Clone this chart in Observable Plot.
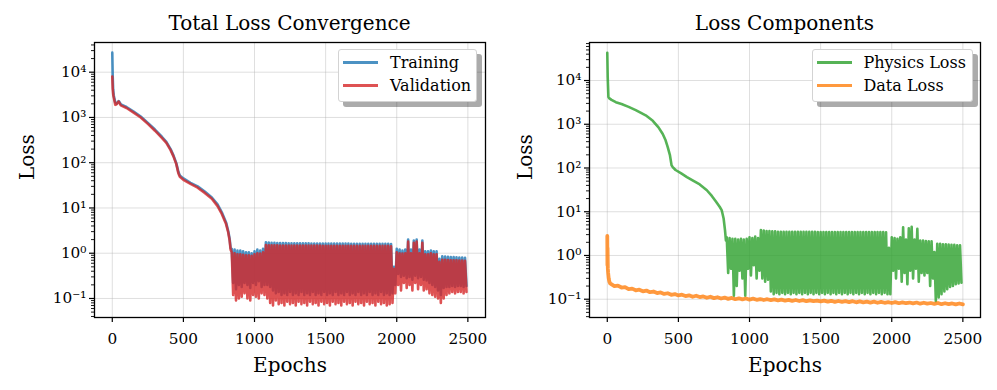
<!DOCTYPE html>
<html><head><meta charset="utf-8">
<script src="https://cdn.jsdelivr.net/npm/d3@7"></script>
<script src="https://cdn.jsdelivr.net/npm/@observablehq/plot@0.6"></script>
<style>
body{margin:0;background:#fff;font-family:"DejaVu Serif",serif;color:#000;}
#wrap{position:relative;width:997px;height:390px;overflow:hidden;background:#fff;}
.panel{position:absolute;top:0;}
.title{position:absolute;top:13px;font-size:20px;line-height:20px;white-space:nowrap;transform:translateX(-50%);}
.legend{position:absolute;background:#fff;border:1px solid #d3d3d3;border-radius:3px;box-shadow:5px 5px 0 rgba(0,0,0,0.33);box-sizing:border-box;}
.handle{position:absolute;height:2.6px;width:35px;}
.ltext{position:absolute;font-size:16px;line-height:16px;white-space:nowrap;}
</style></head>
<body><div id="wrap"></div>
<script>
// ---------------- data ----------------
const xTicks = [0, 500, 1000, 1500, 2000, 2500];
const yTicks = [0.1, 1, 10, 100, 1000, 10000];
const yTickLabels = ["10\u207B\u00B9", "10\u2070", "10\u00B9", "10\u00B2", "10\u00B3", "10\u2074"];
const minorTicks = [0.04,0.05,0.06,0.07,0.08,0.09,0.2,0.3,0.4,0.5,0.6,0.7,0.8,0.9,2,3,4,5,6,7,8,9,20,30,40,50,60,70,80,90,200,300,400,500,600,700,800,900,2000,3000,4000,5000,6000,7000,8000,9000,20000,30000,40000,50000,60000,70000];

// smooth early phase (epoch, loss)
const trainEpochs = [0, 3, 6, 10, 20, 30, 45, 60, 100, 150, 200, 250, 300, 350, 380, 410, 430, 450, 465, 475, 500, 550, 600, 650, 700, 740, 770, 800, 815, 825, 832];
const trainVals   = [27000, 8000, 4200, 3100, 2200, 2000, 2300, 1950, 1700, 1350, 1050, 760, 540, 370, 290, 200, 145, 98, 62, 52, 45, 36, 30, 23, 17, 12, 8, 4.8, 3.1, 2.1, 1.3];
const valEpochs   = [0, 3, 6, 10, 21, 30, 44, 60, 100, 150, 200, 250, 300, 350, 380, 410, 430, 450, 465, 475, 500, 550, 600, 650, 700, 740, 770, 800, 815, 825, 832];
const valVals     = [8000, 4300, 3300, 2800, 1900, 1950, 2250, 1850, 1620, 1280, 1000, 720, 510, 350, 275, 190, 138, 93, 58, 49, 42, 34, 28, 21.5, 16, 11, 7.4, 4.4, 2.9, 1.9, 1.2];
const physEpochs  = [0, 3, 8, 15, 30, 60, 100, 150, 200, 270, 320, 360, 390, 410, 425, 440, 452, 460, 480, 520, 560, 600, 650, 700, 735, 765, 790, 805, 818, 828, 834];
const physVals    = [43000, 12000, 4200, 3900, 3600, 3200, 2900, 2500, 2100, 1600, 1200, 850, 600, 430, 300, 200, 115, 105, 90, 75, 62, 52, 42, 31, 23, 17, 13, 10.7, 7, 3.7, 2.2];

// oscillating phase: one peak/trough pair every 20 epochs from epoch 840
const OSC_START = 840, OSC_STEP = 20;
const trainHi = [1.25,1.2,1.15,1.15,1.1,1.05,1.05,1.0,1.1,1.2,1.15,1.25,
  1.75,1.72,1.7,1.7,1.68,1.68,1.67,1.67,1.66,1.66,1.66,1.65,1.65,1.65,1.65,1.65,1.64,1.64,1.64,1.64,1.64,1.64,1.63,1.63,1.63,1.63,1.63,1.63,1.63,1.63,1.62,1.62,1.62,1.62,1.62,1.62,1.62,1.62,1.62,1.62,1.62,1.62,1.62,1.62,
  1.6,0.5,1.25,1.2,1.15,1.2,2.0,1.2,1.9,2.0,1.2,1.9,1.1,1.1,1.15,1.1,1.1,0.75,
  0.85,0.84,0.83,0.82,0.82,0.81,0.8,0.8,0.79];
const trainLo = [0.22,0.16,0.2,0.18,0.22,0.2,0.17,0.22,0.2,0.24,0.18,0.2,
  0.2,0.18,0.15,0.13,0.14,0.12,0.13,0.12,0.14,0.12,0.13,0.12,0.14,0.12,0.13,0.12,0.14,0.12,0.13,0.12,0.14,0.12,0.13,0.12,0.14,0.12,0.13,0.12,0.14,0.12,0.13,0.12,0.14,0.12,0.13,0.12,0.14,0.12,0.13,0.12,0.14,0.12,0.13,0.12,
  0.13,0.2,0.35,0.3,0.32,0.28,0.3,0.26,0.32,0.28,0.3,0.26,0.25,0.22,0.2,0.18,0.15,0.12,
  0.17,0.18,0.18,0.19,0.18,0.19,0.19,0.18,0.19];
const valHi = [1.05,1.0,0.95,0.95,0.92,0.9,0.9,0.88,0.95,1.0,0.98,1.05,
  1.52,1.5,1.5,1.49,1.49,1.48,1.48,1.48,1.47,1.47,1.47,1.47,1.47,1.47,1.47,1.47,1.47,1.47,1.47,1.47,1.46,1.46,1.46,1.46,1.46,1.46,1.46,1.46,1.46,1.46,1.45,1.45,1.45,1.45,1.45,1.45,1.45,1.45,1.45,1.45,1.45,1.45,1.45,1.45,
  1.42,0.45,1.05,1.0,0.98,1.0,1.8,1.0,1.7,1.8,1.0,1.7,0.95,0.95,1.0,0.95,0.95,0.65,
  0.72,0.72,0.71,0.7,0.7,0.7,0.69,0.69,0.68];
const valLo = [0.12,0.09,0.1,0.11,0.13,0.1,0.09,0.12,0.11,0.1,0.13,0.12,
  0.1,0.08,0.07,0.09,0.075,0.08,0.07,0.085,0.075,0.08,0.07,0.085,0.075,0.08,0.07,0.085,0.075,0.08,0.07,0.085,0.075,0.08,0.07,0.085,0.075,0.08,0.07,0.085,0.075,0.08,0.07,0.085,0.075,0.08,0.07,0.085,0.075,0.08,0.07,0.085,0.075,0.08,0.07,0.075,
  0.08,0.13,0.2,0.15,0.22,0.17,0.2,0.15,0.22,0.16,0.2,0.15,0.16,0.13,0.12,0.11,0.1,0.08,
  0.1,0.12,0.13,0.14,0.13,0.14,0.14,0.13,0.14];
const physHi = [2.6,2.5,2.4,2.4,2.3,2.4,2.3,2.4,2.6,2.5,2.7,2.5,
  3.8,3.7,3.6,3.6,3.55,3.55,3.5,3.5,3.5,3.5,3.5,3.5,3.5,3.5,3.5,3.5,3.5,3.5,3.5,3.5,3.45,3.45,3.45,3.45,3.45,3.45,3.45,3.45,3.45,3.45,3.45,3.45,3.45,3.45,3.45,3.45,3.45,3.45,3.45,3.45,3.45,3.45,3.45,3.45,
  3.4,1.5,2.6,2.5,2.4,2.6,4.4,2.3,4.2,4.5,2.3,4.1,2.2,2.2,2.15,2.1,2.1,1.2,
  1.85,1.85,1.8,1.8,1.78,1.75,1.75,1.72,1.7];
const physLo = [0.4,0.5,0.12,0.2,0.45,0.3,0.12,0.5,0.35,0.6,0.3,0.45,
  0.3,0.25,0.28,0.15,0.13,0.14,0.13,0.14,0.13,0.14,0.13,0.14,0.13,0.14,0.13,0.14,0.13,0.14,0.13,0.14,0.13,0.14,0.13,0.14,0.13,0.14,0.13,0.14,0.13,0.14,0.13,0.14,0.13,0.14,0.13,0.14,0.13,0.14,0.13,0.14,0.13,0.14,0.13,0.14,
  0.13,0.13,0.45,0.3,0.5,0.25,0.4,0.22,0.45,0.3,0.5,0.25,0.4,0.35,0.4,0.2,0.3,0.09,
  0.11,0.13,0.15,0.17,0.19,0.2,0.22,0.23,0.24];

// data loss: initial epochs, then one value every 25 epochs from 25
const dataEarlyEpochs = [0, 1, 2, 4, 6, 10, 15, 20];
const dataEarlyVals   = [2.8, 0.6, 1.5, 0.5, 0.4, 0.3, 0.25, 0.23];
const DATA_START = 25, DATA_STEP = 25;
const dataVals = [0.225,0.2,0.205,0.185,0.19,0.17,0.175,0.16,0.165,0.152,
  0.158,0.145,0.15,0.138,0.143,0.132,0.137,0.126,0.131,0.122,
  0.127,0.118,0.123,0.114,0.12,0.112,0.116,0.108,0.114,0.106,
  0.111,0.104,0.109,0.102,0.107,0.1,0.105,0.099,0.104,0.098,
  0.103,0.097,0.101,0.096,0.1,0.095,0.099,0.094,0.098,0.093,
  0.097,0.092,0.096,0.091,0.095,0.09,0.094,0.09,0.093,0.089,
  0.093,0.088,0.092,0.087,0.091,0.087,0.09,0.086,0.09,0.085,
  0.089,0.085,0.088,0.084,0.088,0.083,0.087,0.083,0.086,0.082,
  0.086,0.081,0.085,0.081,0.084,0.08,0.084,0.079,0.083,0.079,
  0.082,0.078,0.082,0.077,0.081,0.077,0.08,0.076,0.08,0.076];

// ---------------- build series ----------------
function series(epochs, vals, hi, lo) {
  const out = epochs.map((e, i) => ({epoch: e, loss: vals[i]}));
  hi.forEach((h, i) => {
    const e = OSC_START + OSC_STEP * i;
    out.push({epoch: e, loss: h});
    out.push({epoch: e + OSC_STEP / 2, loss: lo[i]});
  });
  return out;
}
const train = series(trainEpochs, trainVals, trainHi, trainLo);
const valid = series(valEpochs, valVals, valHi, valLo);
const phys  = series(physEpochs, physVals, physHi, physLo);
const dataL = dataEarlyEpochs.map((e, i) => ({epoch: e, loss: dataEarlyVals[i]}))
  .concat(dataVals.map((v, i) => ({epoch: DATA_START + DATA_STEP * i, loss: v})));

const supFmt = d => yTickLabels[yTicks.indexOf(d)] ?? "";
const FONT = "DejaVu Serif";

function panel(opts) {
  return Plot.plot({
    width: opts.width, height: 390,
    marginLeft: opts.ml, marginRight: opts.mr, marginTop: 42, marginBottom: 73,
    style: {fontFamily: FONT, fontSize: "15.3px", background: "transparent", color: "black"},
    x: {domain: [-125, 2624]},
    y: {type: "log", domain: opts.ydom},
    marks: [
      Plot.gridX(xTicks, {stroke: "#b0b0b0", strokeOpacity: 0.4, strokeWidth: 1}),
      Plot.gridY(yTicks, {stroke: "#b0b0b0", strokeOpacity: 0.4, strokeWidth: 1}),
      Plot.axisX(xTicks, {tickSize: 5, tickPadding: 11, tickFormat: d => String(d), label: null, fontSize: 15.3, strokeWidth: 1.2}),
      Plot.axisY(yTicks, {tickSize: 5, tickPadding: 3, tickFormat: supFmt, label: null, fontSize: 15.3, strokeWidth: 1.2}),
      Plot.axisY(minorTicks.filter(t => t > opts.ydom[0] && t < opts.ydom[1]), {tickSize: 3, tickFormat: () => "", label: null, strokeWidth: 0.9}),
      ...opts.lines,
      Plot.frame({stroke: "black", strokeWidth: 1.3}),
      Plot.text(["Epochs"], {frameAnchor: "bottom", dy: 48, fontSize: 20, lineAnchor: "middle"}),
      Plot.text(["Loss"], {frameAnchor: "left", dx: -opts.ml + 27, rotate: -90, fontSize: 20, lineAnchor: "middle"})
    ]
  });
}

const left = panel({
  width: 498, ml: 94, mr: 13, ydom: [0.038, 45300],
  lines: [
    Plot.line(train, {x: "epoch", y: "loss", stroke: "#1f77b4", strokeOpacity: 0.8, strokeWidth: 2.6}),
    Plot.line(valid, {x: "epoch", y: "loss", stroke: "#d62728", strokeOpacity: 0.8, strokeWidth: 2.6})
  ]
});
const right = panel({
  width: 499, ml: 91, mr: 17, ydom: [0.0382, 74000],
  lines: [
    Plot.line(phys, {x: "epoch", y: "loss", stroke: "#2ca02c", strokeOpacity: 0.8, strokeWidth: 2.6}),
    Plot.line(dataL, {x: "epoch", y: "loss", stroke: "#ff7f0e", strokeOpacity: 0.8, strokeWidth: 3.8})
  ]
});

const wrap = document.getElementById("wrap");
function place(el, x) { el.classList.add("panel"); el.style.left = x + "px"; wrap.appendChild(el); }
place(left, 0);
place(right, 498);

function addTitle(text, cx) {
  const d = document.createElement("div");
  d.className = "title"; d.textContent = text; d.style.left = cx + "px";
  wrap.appendChild(d);
}
addTitle("Total Loss Convergence", 289.5);
addTitle("Loss Components", 784.5);

function addLegend(x, y, w, h, items) {
  const box = document.createElement("div");
  box.className = "legend";
  Object.assign(box.style, {left: x + "px", top: y + "px", width: w + "px", height: h + "px"});
  wrap.appendChild(box);
  items.forEach((it, i) => {
    const cy = y + 13.7 + i * 22.8;
    const hd = document.createElement("div");
    hd.className = "handle";
    Object.assign(hd.style, {left: (x + 5) + "px", top: (cy - 1.3) + "px", background: it.color});
    wrap.appendChild(hd);
    const t = document.createElement("div");
    t.className = "ltext"; t.textContent = it.label;
    Object.assign(t.style, {left: (x + 52) + "px", top: (cy + 6 - 13.5) + "px"});
    wrap.appendChild(t);
  });
}
addLegend(338, 49, 139, 53, [{label: "Training", color: "#4c92c3"}, {label: "Validation", color: "#de5253"}]);
addLegend(811.5, 49, 161.5, 53, [{label: "Physics Loss", color: "#56b356"}, {label: "Data Loss", color: "#ff993e"}]);
</script></body></html>
